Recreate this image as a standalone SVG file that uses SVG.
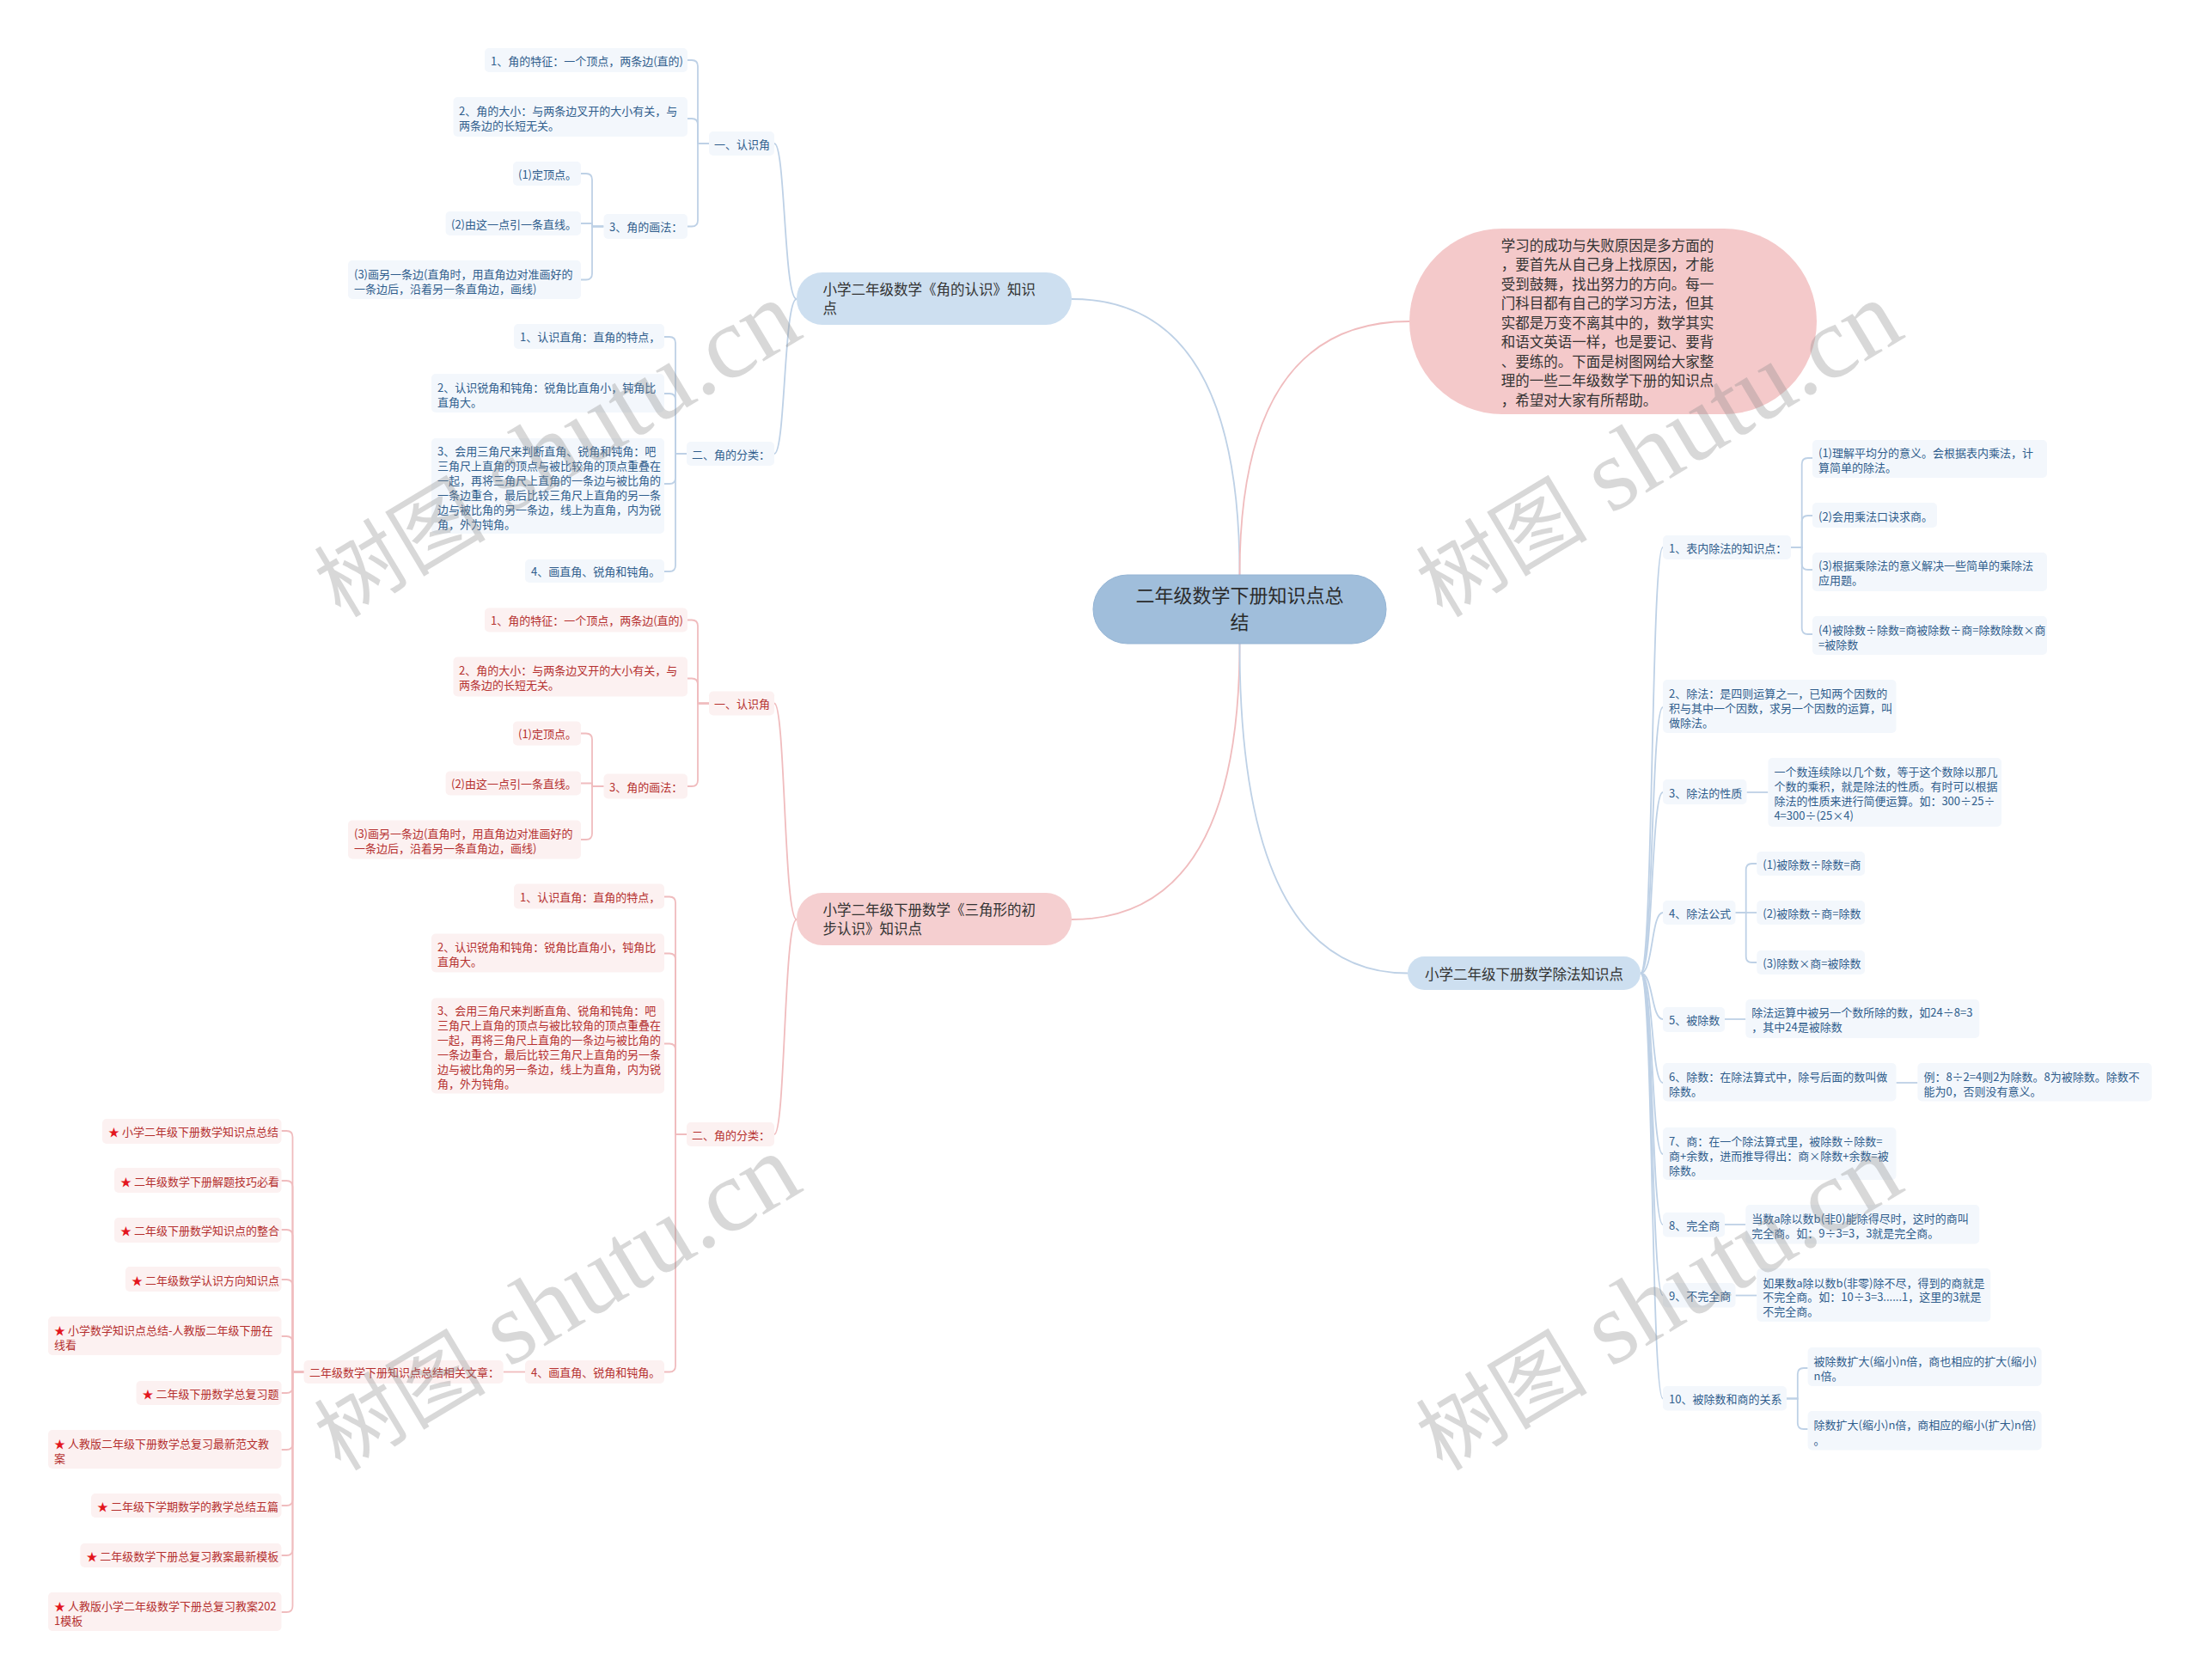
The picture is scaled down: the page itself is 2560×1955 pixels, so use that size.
<svg xmlns="http://www.w3.org/2000/svg" width="2560" height="1955" viewBox="0 0 2560 1955">
<style>
text{font-family:"Noto Sans CJK SC","Noto Sans",sans-serif;dominant-baseline:central}
.t{font-size:13px}
.tb{fill:#2f5d8c}
.tr{fill:#b5302f}
.bl{fill:#f3f7fc}
.rl{fill:#fcf1f1}
.big{font-size:16.5px;fill:#333}
.cb{fill:none;stroke:#bed1e6;stroke-width:1.8}
.cr{fill:none;stroke:#f0bcbe;stroke-width:1.8}
.star{fill:#e3161d}
.wm{font-size:120px;fill:#8c8c8c;opacity:.33}
.wmc{font-size:100px}
</style>
<rect width="2560" height="1955" fill="#fff"/>

<g id="connectors">
<path class="cb" d="M1442.5 669 Q1442.5 348 1247 348"/>
<path class="cr" d="M1442.5 669 Q1442.5 374 1640 374"/>
<path class="cr" d="M1442.5 749 Q1442.5 1070 1247 1070"/>
<path class="cb" d="M1442.5 749 Q1442.5 1132.5 1638 1132.5"/>
<path class="cb" d="M927 348 C912 348 914 167 901 167"/>
<path class="cb" d="M927 348 C912 348 914 528 901 528"/>
<path class="cb" d="M800 70 H805 Q812 70 812 77 V167 H825"/>
<path class="cb" d="M800 138 H805 Q812 138 812 145 V167 H825"/>
<path class="cb" d="M800 263.5 H805 Q812 263.5 812 256.5 V167 H825"/>
<path class="cb" d="M676 202 H682 Q689 202 689 209 V263.5 H702.5"/>
<path class="cb" d="M676 260 H689 V263.5 H702.5"/>
<path class="cb" d="M676 325.5 H682 Q689 325.5 689 318.5 V263.5 H702.5"/>
<path class="cb" d="M773 392 H779 Q786 392 786 399 V528 H799"/>
<path class="cb" d="M773 458 H779 Q786 458 786 465 V528 H799"/>
<path class="cb" d="M773 563 H779 Q786 563 786 556 V528 H799"/>
<path class="cb" d="M773 665 H779 Q786 665 786 658 V528 H799"/>
<path class="cr" d="M927 1070 C912 1070 914 818.5 901 818.5"/>
<path class="cr" d="M927 1070 C912 1070 914 1320 901 1320"/>
<path class="cr" d="M800 721.5 H805 Q812 721.5 812 728.5 V818.5 H825"/>
<path class="cr" d="M800 789.5 H805 Q812 789.5 812 796.5 V818.5 H825"/>
<path class="cr" d="M800 915 H805 Q812 915 812 908 V818.5 H825"/>
<path class="cr" d="M676 853.5 H682 Q689 853.5 689 860.5 V915 H702.5"/>
<path class="cr" d="M676 911.5 H689 V915 H702.5"/>
<path class="cr" d="M676 977 H682 Q689 977 689 970 V915 H702.5"/>
<path class="cr" d="M773 1043.5 H779 Q786 1043.5 786 1050.5 V1320 H799"/>
<path class="cr" d="M773 1109.5 H779 Q786 1109.5 786 1116.5 V1320 H799"/>
<path class="cr" d="M773 1214.5 H779 Q786 1214.5 786 1221.5 V1320 H799"/>
<path class="cr" d="M773 1596.5 H779 Q786 1596.5 786 1589.5 V1320 H799"/>
<path class="cr" d="M611 1596.5 H585.7"/>
<path class="cr" d="M327.5 1316 H333.5 Q340.5 1316 340.5 1323 V1596.5 H353.6"/>
<path class="cr" d="M327.5 1374 H333.5 Q340.5 1374 340.5 1381 V1596.5 H353.6"/>
<path class="cr" d="M327.5 1431 H333.5 Q340.5 1431 340.5 1438 V1596.5 H353.6"/>
<path class="cr" d="M327.5 1489 H333.5 Q340.5 1489 340.5 1496 V1596.5 H353.6"/>
<path class="cr" d="M327.5 1555 H333.5 Q340.5 1555 340.5 1562 V1596.5 H353.6"/>
<path class="cr" d="M327.5 1621 H333.5 Q340.5 1621 340.5 1614 V1596.5 H353.6"/>
<path class="cr" d="M327.5 1687 H333.5 Q340.5 1687 340.5 1680 V1596.5 H353.6"/>
<path class="cr" d="M327.5 1752 H333.5 Q340.5 1752 340.5 1745 V1596.5 H353.6"/>
<path class="cr" d="M327.5 1810 H333.5 Q340.5 1810 340.5 1803 V1596.5 H353.6"/>
<path class="cr" d="M327.5 1876 H333.5 Q340.5 1876 340.5 1869 V1596.5 H353.6"/>
<path class="cb" d="M1909 1132.5 C1924 1132.5 1921 637 1935 637"/>
<path class="cb" d="M1909 1132.5 C1924 1132.5 1921 823 1935 823"/>
<path class="cb" d="M1909 1132.5 C1924 1132.5 1921 922 1935 922"/>
<path class="cb" d="M1909 1132.5 C1924 1132.5 1921 1062 1935 1062"/>
<path class="cb" d="M1909 1132.5 C1924 1132.5 1921 1186 1935 1186"/>
<path class="cb" d="M1909 1132.5 C1924 1132.5 1921 1260 1935 1260"/>
<path class="cb" d="M1909 1132.5 C1924 1132.5 1921 1343 1935 1343"/>
<path class="cb" d="M1909 1132.5 C1924 1132.5 1921 1425 1935 1425"/>
<path class="cb" d="M1909 1132.5 C1924 1132.5 1921 1507.5 1935 1507.5"/>
<path class="cb" d="M1909 1132.5 C1924 1132.5 1921 1627.5 1935 1627.5"/>
<path class="cb" d="M2084 637 H2096.7 V540 Q2096.7 533 2103.7 533 H2109"/>
<path class="cb" d="M2084 637 H2096.7 V607 Q2096.7 600 2103.7 600 H2109"/>
<path class="cb" d="M2084 637 H2096.7 V656 Q2096.7 663 2103.7 663 H2109"/>
<path class="cb" d="M2084 637 H2096.7 V731 Q2096.7 738 2103.7 738 H2109"/>
<path class="cb" d="M2032.5 922 H2057.4"/>
<path class="cb" d="M2019.4 1062 H2031.7 V1012 Q2031.7 1005 2038.7 1005 H2044.3"/>
<path class="cb" d="M2019.4 1062 H2044.3"/>
<path class="cb" d="M2019.4 1062 H2031.7 V1113 Q2031.7 1120 2038.7 1120 H2044.3"/>
<path class="cb" d="M2006.8 1186 H2031.3"/>
<path class="cb" d="M2206.4 1260 H2231.4"/>
<path class="cb" d="M2006.8 1425 H2031.3"/>
<path class="cb" d="M2019.4 1507.5 H2044.3"/>
<path class="cb" d="M2078.7 1627.5 H2091.8 V1599 Q2091.8 1592 2098.8 1592 H2103.6"/>
<path class="cb" d="M2078.7 1627.5 H2091.8 V1656 Q2091.8 1663 2098.8 1663 H2103.6"/>
</g>

<g id="center">
<rect x="1272" y="669" width="341" height="80" rx="40" fill="#a0bedb" stroke="#94b4d4" stroke-width="1"/>
<text x="1442.5" y="690.5" font-size="22" fill="#2b2b2b" text-anchor="middle">二年级数学下册知识点总</text>
<text x="1442.5" y="721.5" font-size="22" fill="#2b2b2b" text-anchor="middle">结</text>
</g>

<g id="branch-angle">
<rect x="927" y="317" width="320" height="61" rx="30" fill="#cddff0"/>
<text class="big" x="957.6" y="336">小学二年级数学《角的认识》知识</text>
<text class="big" x="957.6" y="358">点</text>
</g>
<g id="branch-triangle">
<rect x="927" y="1039" width="320" height="61" rx="30" fill="#f5cfd0"/>
<text class="big" x="957.6" y="1058">小学二年级下册数学《三角形的初</text>
<text class="big" x="957.6" y="1080">步认识》知识点</text>
</g>
<g id="branch-intro">
<rect x="1640" y="266" width="474" height="216" rx="108" fill="#f4c9ca"/>
<text class="big" x="1746.7" y="284.5">学习的成功与失败原因是多方面的</text>
<text class="big" x="1746.7" y="307">，要首先从自己身上找原因，才能</text>
<text class="big" x="1746.7" y="329.5">受到鼓舞，找出努力的方向。每一</text>
<text class="big" x="1746.7" y="352">门科目都有自己的学习方法，但其</text>
<text class="big" x="1746.7" y="374.5">实都是万变不离其中的，数学其实</text>
<text class="big" x="1746.7" y="397">和语文英语一样，也是要记、要背</text>
<text class="big" x="1746.7" y="419.5">、要练的。下面是树图网给大家整</text>
<text class="big" x="1746.7" y="442">理的一些二年级数学下册的知识点</text>
<text class="big" x="1746.7" y="464.5">，希望对大家有所帮助。</text>
</g>
<g id="branch-division">
<rect x="1638" y="1113" width="271" height="39" rx="19.5" fill="#cddff0"/>
<text class="big" x="1773.5" y="1132.5" text-anchor="middle">小学二年级下册数学除法知识点</text>
</g>

<g id="b-recognize"><rect class="bl" x="825" y="153" width="76" height="28" rx="5"/><text class="t tb" x="831" y="167">一、认识角</text></g>
<g id="b-feature"><rect class="bl" x="564" y="56" width="236" height="28" rx="5"/><text class="t tb" x="571" y="70">1、角的特征：一个顶点，两条边(直的)</text></g>
<g id="b-size"><rect class="bl" x="527.5" y="113" width="272.5" height="46" rx="5"/><text class="t tb" x="534" y="128">2、角的大小：与两条边叉开的大小有关，与</text><text class="t tb" x="534" y="145">两条边的长短无关。</text></g>
<g id="b-draw"><rect class="bl" x="702.5" y="249" width="97.5" height="29" rx="5"/><text class="t tb" x="709" y="263.5">3、角的画法：</text></g>
<g id="b-draw1"><rect class="bl" x="597" y="188" width="79" height="28" rx="5"/><text class="t tb" x="603" y="202">(1)定顶点。</text></g>
<g id="b-draw2"><rect class="bl" x="518.6" y="246" width="157.4" height="28" rx="5"/><text class="t tb" x="525" y="260">(2)由这一点引一条直线。</text></g>
<g id="b-draw3"><rect class="bl" x="405" y="303" width="271" height="45" rx="5"/><text class="t tb" x="412" y="318">(3)画另一条边(直角时，用直角边对准画好的</text><text class="t tb" x="412" y="335">一条边后，沿着另一条直角边，画线)</text></g>
<g id="b-classify"><rect class="bl" x="799" y="514" width="102" height="28" rx="5"/><text class="t tb" x="805" y="528">二、角的分类：</text></g>
<g id="b-right"><rect class="bl" x="598" y="377" width="175" height="29" rx="5"/><text class="t tb" x="605" y="391.5">1、认识直角：直角的特点，</text></g>
<g id="b-acute"><rect class="bl" x="502" y="435" width="271" height="45" rx="5"/><text class="t tb" x="509" y="450">2、认识锐角和钝角：锐角比直角小，钝角比</text><text class="t tb" x="509" y="467">直角大。</text></g>
<g id="b-ruler"><rect class="bl" x="502" y="510" width="271" height="111" rx="5"/>
<text class="t tb" x="509" y="524">3、会用三角尺来判断直角、锐角和钝角：吧</text>
<text class="t tb" x="509" y="541">三角尺上直角的顶点与被比较角的顶点重叠在</text>
<text class="t tb" x="509" y="558">一起，再将三角尺上直角的一条边与被比角的</text>
<text class="t tb" x="509" y="575">一条边重合，最后比较三角尺上直角的另一条</text>
<text class="t tb" x="509" y="592">边与被比角的另一条边，线上为直角，内为锐</text>
<text class="t tb" x="509" y="609">角，外为钝角。</text></g>
<g id="b-drawangles"><rect class="bl" x="611" y="651" width="162" height="27" rx="5"/><text class="t tb" x="618" y="664.5">4、画直角、锐角和钝角。</text></g>

<g id="r-recognize"><rect class="rl" x="825" y="804.5" width="76" height="28" rx="5"/><text class="t tr" x="831" y="818.5">一、认识角</text></g>
<g id="r-feature"><rect class="rl" x="564" y="707.5" width="236" height="28" rx="5"/><text class="t tr" x="571" y="721.5">1、角的特征：一个顶点，两条边(直的)</text></g>
<g id="r-size"><rect class="rl" x="527.5" y="764.5" width="272.5" height="46" rx="5"/><text class="t tr" x="534" y="779.5">2、角的大小：与两条边叉开的大小有关，与</text><text class="t tr" x="534" y="796.5">两条边的长短无关。</text></g>
<g id="r-draw"><rect class="rl" x="702.5" y="900.5" width="97.5" height="29" rx="5"/><text class="t tr" x="709" y="915">3、角的画法：</text></g>
<g id="r-draw1"><rect class="rl" x="597" y="839.5" width="79" height="28" rx="5"/><text class="t tr" x="603" y="853.5">(1)定顶点。</text></g>
<g id="r-draw2"><rect class="rl" x="518.6" y="897.5" width="157.4" height="28" rx="5"/><text class="t tr" x="525" y="911.5">(2)由这一点引一条直线。</text></g>
<g id="r-draw3"><rect class="rl" x="405" y="954.5" width="271" height="45" rx="5"/><text class="t tr" x="412" y="969.5">(3)画另一条边(直角时，用直角边对准画好的</text><text class="t tr" x="412" y="986.5">一条边后，沿着另一条直角边，画线)</text></g>
<g id="r-classify"><rect class="rl" x="799" y="1306" width="102" height="28" rx="5"/><text class="t tr" x="805" y="1320">二、角的分类：</text></g>
<g id="r-right"><rect class="rl" x="598" y="1028.5" width="175" height="29" rx="5"/><text class="t tr" x="605" y="1043">1、认识直角：直角的特点，</text></g>
<g id="r-acute"><rect class="rl" x="502" y="1086.5" width="271" height="45" rx="5"/><text class="t tr" x="509" y="1101.5">2、认识锐角和钝角：锐角比直角小，钝角比</text><text class="t tr" x="509" y="1118.5">直角大。</text></g>
<g id="r-ruler"><rect class="rl" x="502" y="1161.5" width="271" height="111" rx="5"/>
<text class="t tr" x="509" y="1175.5">3、会用三角尺来判断直角、锐角和钝角：吧</text>
<text class="t tr" x="509" y="1192.5">三角尺上直角的顶点与被比较角的顶点重叠在</text>
<text class="t tr" x="509" y="1209.5">一起，再将三角尺上直角的一条边与被比角的</text>
<text class="t tr" x="509" y="1226.5">一条边重合，最后比较三角尺上直角的另一条</text>
<text class="t tr" x="509" y="1243.5">边与被比角的另一条边，线上为直角，内为锐</text>
<text class="t tr" x="509" y="1260.5">角，外为钝角。</text></g>
<g id="r-drawangles"><rect class="rl" x="611" y="1583" width="162" height="27" rx="5"/><text class="t tr" x="618" y="1596.5">4、画直角、锐角和钝角。</text></g>
<g id="r-related"><rect class="rl" x="353.6" y="1583" width="232" height="27" rx="5"/><text class="t tr" x="360" y="1596.5">二年级数学下册知识点总结相关文章：</text></g>
<g id="rel-1"><rect class="rl" x="119" y="1302" width="208.5" height="29" rx="5"/><text class="t tr" x="126" y="1316"><tspan class="star">★</tspan> 小学二年级下册数学知识点总结</text></g>
<g id="rel-2"><rect class="rl" x="133" y="1359" width="194.5" height="29" rx="5"/><text class="t tr" x="140" y="1374"><tspan class="star">★</tspan> 二年级数学下册解题技巧必看</text></g>
<g id="rel-3"><rect class="rl" x="133" y="1417" width="194.5" height="29" rx="5"/><text class="t tr" x="140" y="1431"><tspan class="star">★</tspan> 二年级下册数学知识点的整合</text></g>
<g id="rel-4"><rect class="rl" x="146" y="1474" width="181.5" height="29" rx="5"/><text class="t tr" x="153" y="1489"><tspan class="star">★</tspan> 二年级数学认识方向知识点</text></g>
<g id="rel-5"><rect class="rl" x="56" y="1532" width="271.5" height="45" rx="5"/><text class="t tr" x="63" y="1547"><tspan class="star">★</tspan> 小学数学知识点总结-人教版二年级下册在</text><text class="t tr" x="63" y="1564">线看</text></g>
<g id="rel-6"><rect class="rl" x="158.6" y="1607" width="169" height="28" rx="5"/><text class="t tr" x="165.6" y="1621"><tspan class="star">★</tspan> 二年级下册数学总复习题</text></g>
<g id="rel-7"><rect class="rl" x="56" y="1664" width="271.5" height="45" rx="5"/><text class="t tr" x="63" y="1679"><tspan class="star">★</tspan> 人教版二年级下册数学总复习最新范文教</text><text class="t tr" x="63" y="1696">案</text></g>
<g id="rel-8"><rect class="rl" x="106" y="1738" width="221.5" height="28" rx="5"/><text class="t tr" x="113" y="1752"><tspan class="star">★</tspan> 二年级下学期数学的教学总结五篇</text></g>
<g id="rel-9"><rect class="rl" x="93.4" y="1796" width="234" height="28" rx="5"/><text class="t tr" x="100.4" y="1810"><tspan class="star">★</tspan> 二年级数学下册总复习教案最新模板</text></g>
<g id="rel-10"><rect class="rl" x="56" y="1853" width="271.5" height="45" rx="5"/><text class="t tr" x="63" y="1868"><tspan class="star">★</tspan> 人教版小学二年级数学下册总复习教案202</text><text class="t tr" x="63" y="1885">1模板</text></g>

<g id="d1"><rect class="bl" x="1935" y="623" width="149" height="28" rx="5"/><text class="t tb" x="1942" y="637">1、表内除法的知识点：</text></g>
<g id="d1a"><rect class="bl" x="2109" y="512" width="273" height="44" rx="5"/><text class="t tb" x="2116" y="526">(1)理解平均分的意义。会根据表内乘法，计</text><text class="t tb" x="2116" y="543">算简单的除法。</text></g>
<g id="d1b"><rect class="bl" x="2109" y="585" width="145" height="29" rx="5"/><text class="t tb" x="2116" y="600">(2)会用乘法口诀求商。</text></g>
<g id="d1c"><rect class="bl" x="2109" y="643" width="273" height="45" rx="5"/><text class="t tb" x="2116" y="657">(3)根据乘除法的意义解决一些简单的乘除法</text><text class="t tb" x="2116" y="674">应用题。</text></g>
<g id="d1d"><rect class="bl" x="2109" y="717" width="273" height="45" rx="5"/><text class="t tb" x="2116" y="732">(4)被除数÷除数=商被除数÷商=除数除数×商</text><text class="t tb" x="2116" y="749">=被除数</text></g>
<g id="d2"><rect class="bl" x="1935" y="791" width="271.5" height="62" rx="5"/><text class="t tb" x="1942" y="806">2、除法：是四则运算之一，已知两个因数的</text><text class="t tb" x="1942" y="823">积与其中一个因数，求另一个因数的运算，叫</text><text class="t tb" x="1942" y="840">做除法。</text></g>
<g id="d3"><rect class="bl" x="1935" y="907" width="97.5" height="29" rx="5"/><text class="t tb" x="1942" y="922">3、除法的性质</text></g>
<g id="d3a"><rect class="bl" x="2057.4" y="882" width="271.6" height="80" rx="5"/><text class="t tb" x="2064.4" y="897">一个数连续除以几个数，等于这个数除以那几</text><text class="t tb" x="2064.4" y="914">个数的乘积，就是除法的性质。有时可以根据</text><text class="t tb" x="2064.4" y="931">除法的性质来进行简便运算。如：300÷25÷</text><text class="t tb" x="2064.4" y="948">4=300÷(25×4)</text></g>
<g id="d4"><rect class="bl" x="1935" y="1048" width="84.5" height="28" rx="5"/><text class="t tb" x="1942" y="1062">4、除法公式</text></g>
<g id="d4a"><rect class="bl" x="2044.3" y="991" width="125.7" height="28" rx="5"/><text class="t tb" x="2051.3" y="1005">(1)被除数÷除数=商</text></g>
<g id="d4b"><rect class="bl" x="2044.3" y="1048" width="125.7" height="28" rx="5"/><text class="t tb" x="2051.3" y="1062">(2)被除数÷商=除数</text></g>
<g id="d4c"><rect class="bl" x="2044.3" y="1106" width="125.7" height="28" rx="5"/><text class="t tb" x="2051.3" y="1120">(3)除数×商=被除数</text></g>
<g id="d5"><rect class="bl" x="1935" y="1172" width="72" height="29" rx="5"/><text class="t tb" x="1942" y="1186">5、被除数</text></g>
<g id="d5a"><rect class="bl" x="2031.3" y="1163" width="272" height="45" rx="5"/><text class="t tb" x="2038.3" y="1177.5">除法运算中被另一个数所除的数，如24÷8=3</text><text class="t tb" x="2038.3" y="1194.5">，其中24是被除数</text></g>
<g id="d6"><rect class="bl" x="1935" y="1237" width="271.5" height="44.5" rx="5"/><text class="t tb" x="1942" y="1252">6、除数：在除法算式中，除号后面的数叫做</text><text class="t tb" x="1942" y="1269">除数。</text></g>
<g id="d6a"><rect class="bl" x="2231.4" y="1237" width="272.4" height="44.5" rx="5"/><text class="t tb" x="2238.4" y="1252">例：8÷2=4则2为除数。8为被除数。除数不</text><text class="t tb" x="2238.4" y="1269">能为0，否则没有意义。</text></g>
<g id="d7"><rect class="bl" x="1935" y="1312" width="271.5" height="61" rx="5"/><text class="t tb" x="1942" y="1327">7、商：在一个除法算式里，被除数÷除数=</text><text class="t tb" x="1942" y="1344">商+余数，进而推导得出：商×除数+余数=被</text><text class="t tb" x="1942" y="1361">除数。</text></g>
<g id="d8"><rect class="bl" x="1935" y="1411" width="72" height="28.5" rx="5"/><text class="t tb" x="1942" y="1425">8、完全商</text></g>
<g id="d8a"><rect class="bl" x="2031.3" y="1402" width="272" height="45.5" rx="5"/><text class="t tb" x="2038.3" y="1417">当数a除以数b(非0)能除得尽时，这时的商叫</text><text class="t tb" x="2038.3" y="1434">完全商。如：9÷3=3，3就是完全商。</text></g>
<g id="d9"><rect class="bl" x="1935" y="1493" width="84.5" height="28.5" rx="5"/><text class="t tb" x="1942" y="1507.5">9、不完全商</text></g>
<g id="d9a"><rect class="bl" x="2044.3" y="1476" width="272" height="62" rx="5"/><text class="t tb" x="2051.3" y="1492">如果数a除以数b(非零)除不尽，得到的商就是</text><text class="t tb" x="2051.3" y="1508.5">不完全商。如：10÷3=3......1，这里的3就是</text><text class="t tb" x="2051.3" y="1525">不完全商。</text></g>
<g id="d10"><rect class="bl" x="1935" y="1613" width="144" height="28.5" rx="5"/><text class="t tb" x="1942" y="1627.5">10、被除数和商的关系</text></g>
<g id="d10a"><rect class="bl" x="2103.6" y="1568" width="272" height="45" rx="5"/><text class="t tb" x="2110.6" y="1583">被除数扩大(缩小)n倍，商也相应的扩大(缩小)</text><text class="t tb" x="2110.6" y="1600">n倍。</text></g>
<g id="d10b"><rect class="bl" x="2103.6" y="1642" width="272" height="45.5" rx="5"/><text class="t tb" x="2110.6" y="1657">除数扩大(缩小)n倍，商相应的缩小(扩大)n倍)</text><text class="t tb" x="2110.6" y="1675">。</text></g>

<g id="watermarks">
<text class="wm" x="645" y="519" text-anchor="middle" transform="rotate(-31 645 519)"><tspan class="wmc">树图</tspan><tspan font-family="Liberation Serif"> shutu.cn</tspan></text>
<text class="wm" x="1927" y="519" text-anchor="middle" transform="rotate(-31 1927 519)"><tspan class="wmc">树图</tspan><tspan font-family="Liberation Serif"> shutu.cn</tspan></text>
<text class="wm" x="645" y="1512" text-anchor="middle" transform="rotate(-31 645 1512)"><tspan class="wmc">树图</tspan><tspan font-family="Liberation Serif"> shutu.cn</tspan></text>
<text class="wm" x="1927" y="1512" text-anchor="middle" transform="rotate(-31 1927 1512)"><tspan class="wmc">树图</tspan><tspan font-family="Liberation Serif"> shutu.cn</tspan></text>
</g>
</svg>
